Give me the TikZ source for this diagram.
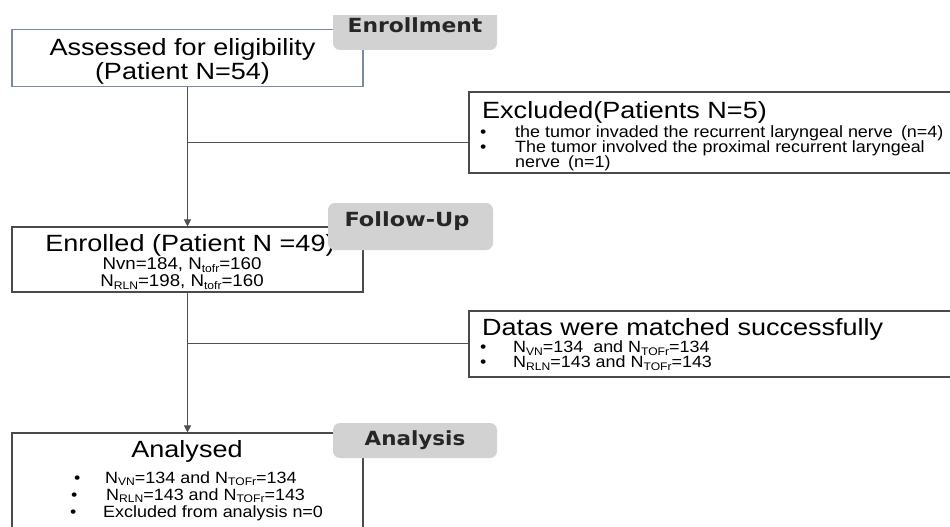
\documentclass[tikz,border=0pt]{standalone}
\usepackage{fontspec}
\setmainfont{Liberation Sans}
\newfontfamily\smfont{Liberation Sans}[FakeStretch=1.1]
\newfontfamily\bigfont{Liberation Sans}[FakeStretch=1.15]
\newfontfamily\tagfont{DejaVu Sans}
\usetikzlibrary{arrows.meta}
\definecolor{linec}{HTML}{505050}
\definecolor{boxc}{HTML}{4A4A4A}
\definecolor{blueb}{HTML}{7B89A3}
\definecolor{tagc}{HTML}{D2D2D2}
\newcommand\sbs[1]{\raisebox{-0.3ex}{\fontsize{11}{11}\selectfont #1}}
\begin{document}
\begin{tikzpicture}[x=1pt,y=-1pt,
  box/.style={draw=boxc, line width=1.1pt, fill=white, inner sep=0pt},
  big/.style={font=\bigfont\fontsize{23.5}{24}\selectfont, inner sep=0pt, anchor=base},
  small/.style={font=\smfont\fontsize{16.3}{15}\selectfont, inner sep=0pt, anchor=base west},
  mid/.style={font=\smfont\fontsize{17}{17}\selectfont, inner sep=0pt, anchor=base},
  tagbox/.style={fill=tagc, rounded corners=7pt, inner sep=0pt, text=black!85,
    font=\tagfont\bfseries\fontsize{19.5}{20}\selectfont},
  conn/.style={draw=linec, line width=0.9pt},
  arr/.style={conn, -{Triangle[length=7pt,width=7pt]}}]
\useasboundingbox (0,0) rectangle (950,527);
\fill[white] (0,0) rectangle (950,527);

% boxes
\node[box, draw=blueb, minimum width=351pt, minimum height=57pt] (assess) at (187.5,58) {};
\node[box, minimum width=351pt, minimum height=65pt] (enrol) at (187.5,259.5) {};
\node[box, minimum width=501pt, minimum height=81pt] (excl) at (719.5,132.5) {};
\node[box, minimum width=501pt, minimum height=66pt] (datas) at (719.5,344) {};
\node[box, minimum width=351pt, minimum height=112pt] (anal) at (187.5,489) {};

% connectors
\draw[arr] (assess.south) -- (enrol.north);
\coordinate (b1) at (187.5,142);
\draw[conn] (b1) -- (b1 -| excl.west);
\draw[arr] (enrol.south) -- (anal.north);
\coordinate (b2) at (187.5,343);
\draw[conn] (b2) -- (b2 -| datas.west);

% texts
\node[big] (t1a) at (182.5,56) {Assessed for eligibility};
\node[big] (t1b) at (182.5,80) {(Patient N=54)};
\node[big] (t2) at (190,251) {Enrolled (Patient N =49)};
\node[mid] (t2a) at (182,269.5) {Nvn=184, N\sbs{tofr}=160};
\node[mid] (t2b) at (182,286.5) {N\sbs{RLN}=198, N\sbs{tofr}=160};

\node[big, anchor=base west] (t3) at (482,118) {Excluded(Patients N=5)};
\node[small] (e1b) at (480,137) {•};
\node[small] (e1) at (515,137) {the tumor invaded the recurrent laryngeal nerve\enspace(n=4)};
\node[small] (e2b) at (480,152) {•};
\node[small] (e2) at (515,152) {The tumor involved the proximal recurrent laryngeal};
\node[small] (e3) at (515,167) {nerve\enspace(n=1)};

\node[big, anchor=base west] (t4) at (482,335.5) {Datas were matched successfully};
\node[small] (d1b) at (480,352.5) {•};
\node[small] (d1) at (513,352.5) {N\sbs{VN}=134~ and N\sbs{TOFr}=134};
\node[small] (d2b) at (480,367.5) {•};
\node[small] (d2) at (513,367.5) {N\sbs{RLN}=143 and N\sbs{TOFr}=143};

\node[big] (t5) at (187,457.5) {Analysed};
\node[small] (a1b) at (74,483) {•};
\node[small] (a1) at (105,483) {N\sbs{VN}=134 and N\sbs{TOFr}=134};
\node[small] (a2b) at (71,500) {•};
\node[small] (a2) at (106,500) {N\sbs{RLN}=143 and N\sbs{TOFr}=143};
\node[small] (a3b) at (70,517.5) {•};
\node[small] (a3) at (103,517.5) {Excluded from analysis n=0};

% stage tags
\begin{scope}
\clip (0,16) rectangle (950,527);
\node[tagbox, minimum width=164pt, minimum height=50pt] (enr) at (415,25) {\scalebox{1.12}[1]{Enrollment}};
\end{scope}
\node[tagbox, minimum width=165pt, minimum height=47pt] (fu) at (410.5,226.5) {};
\node[tagbox, fill=none] (fut) at (407,221) {\scalebox{1.15}[1]{Follow-Up}};
\node[tagbox, minimum width=164pt, minimum height=35pt] (ana) at (415,440.5) {\scalebox{1.1}[1]{Analysis}};
\end{tikzpicture}
\end{document}
